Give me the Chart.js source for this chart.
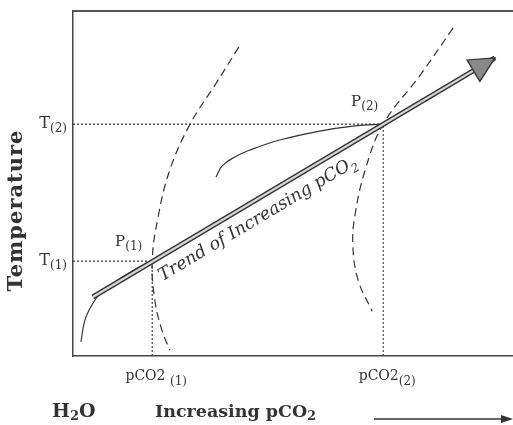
<!DOCTYPE html>
<html>
<head>
<meta charset="utf-8">
<script src="https://cdn.jsdelivr.net/npm/chart.js@4.4.1/dist/chart.umd.min.js"></script>
<style>
  body { margin: 0; background: #fff; }
  #wrap { width: 513px; height: 425px; }
</style>
</head>
<body>
<div id="wrap"><canvas id="phaseChart" width="513" height="425"></canvas></div>
<script>
// state points P(1), P(2) in relative units (0-100 on both axes)
const pointX = [18, 70.5];     // pCO2(1), pCO2(2)
const pointY = [27.5, 67.2];   // T(1), T(2)
const pointSubs = ["(1)", "(2)"];

// dashed boundary curves
const dashLeftX = [37.7, 32.3, 26.6, 22.0, 19.3, 18.0, 18.6, 20.2, 22.0];
const dashLeftY = [89.6, 78.6, 67.2, 53.9, 40.0, 27.5, 16.2, 7.5, 1.7];
const dashRightX = [86.4, 78.9, 70.5, 66.4, 64.1, 63.6, 64.8, 68.0];
const dashRightY = [95.1, 81.4, 67.2, 53.9, 40.9, 32.2, 22.0, 13.0];

// solid curves
const solidLowX = [1.8, 2.7, 4.3, 6.1, 9.5, 13.0, 17.0, 18.0];
const solidLowY = [4.1, 10.4, 14.8, 18.0, 21.4, 24.3, 27.0, 27.5];
const solidMidX = [32.5, 33.9, 36.8, 40.2, 47.0, 56.1, 64.1, 70.5];
const solidMidY = [51.9, 55.1, 57.7, 59.7, 62.6, 65.2, 66.7, 67.2];

// trend arrow (start, tip)
const trendX = [4.5, 95.9];
const trendY = [17.1, 86.4];

const ink = "#333";
const serif = "'DejaVu Serif', 'Liberation Serif', serif";

function toXY(xs, ys) {
  return xs.map((x, i) => ({ x: x, y: ys[i] }));
}

function guide(i) {
  return toXY([0, pointX[i], pointX[i]], [pointY[i], pointY[i], 0]);
}

function lineSet(data, opts) {
  return Object.assign({
    data: data,
    showLine: true,
    pointRadius: 0,
    borderColor: ink,
    borderWidth: 1.2,
    tension: 0.4,
    fill: false
  }, opts);
}

// draws text pieces side by side, some as subscripts
function drawRich(ctx, parts, x, y, align) {
  let total = 0;
  parts.forEach((p) => {
    ctx.font = p.font;
    p.w = ctx.measureText(p.t).width;
    total += p.w;
  });
  let cx = x;
  if (align === "right") cx = x - total;
  if (align === "center") cx = x - total / 2;
  parts.forEach((p) => {
    ctx.font = p.font;
    ctx.fillText(p.t, cx, y + (p.dy || 0));
    cx += p.w;
  });
}

const labelPlugin = {
  id: "labels",
  afterDatasetsDraw(chart) {
    const ctx = chart.ctx;
    const xs = chart.scales.x;
    const ys = chart.scales.y;
    const area = chart.chartArea;
    ctx.save();
    ctx.fillStyle = ink;
    ctx.strokeStyle = ink;
    ctx.textBaseline = "middle";

    // arrow head on the trend line
    const x0 = xs.getPixelForValue(trendX[0]);
    const y0 = ys.getPixelForValue(trendY[0]);
    const x1 = xs.getPixelForValue(trendX[1]);
    const y1 = ys.getPixelForValue(trendY[1]);
    const ang = Math.atan2(y1 - y0, x1 - x0);
    const ux = Math.cos(ang), uy = Math.sin(ang);
    const bx = x1 - ux * 25, by = y1 - uy * 25;
    ctx.beginPath();
    ctx.moveTo(x1, y1);
    ctx.lineTo(bx + uy * 12.5, by - ux * 12.5);
    ctx.lineTo(bx - uy * 12.5, by + ux * 12.5);
    ctx.closePath();
    ctx.fillStyle = "#8a8a8a";
    ctx.fill();
    ctx.lineWidth = 1.3;
    ctx.stroke();
    ctx.fillStyle = ink;

    // rotated trend text
    ctx.save();
    ctx.translate(x0 + ux * 68 - uy * 22, y0 + uy * 68 + ux * 22);
    ctx.rotate(ang);
    ctx.textBaseline = "alphabetic";
    drawRich(ctx, [
      { t: "Trend of Increasing pCO", font: "italic 17.5px " + serif },
      { t: "2", font: "italic 12px " + serif, dy: 5 }
    ], 0, 0, "left");
    ctx.restore();

    // T and pCO2 labels, P labels
    pointY.forEach((v, i) => {
      const py = ys.getPixelForValue(v);
      drawRich(ctx, [
        { t: "T", font: "16px " + serif },
        { t: pointSubs[i], font: "12px " + serif, dy: 5 }
      ], area.left - 6, py, "right");
    });
    pointX.forEach((v, i) => {
      const px = xs.getPixelForValue(v);
      drawRich(ctx, [
        { t: i === 0 ? "pCO2 " : "pCO2", font: "14px " + serif },
        { t: pointSubs[i], font: "12px " + serif, dy: 6 }
      ], px + 4, area.bottom + 20, "center");
      const py = ys.getPixelForValue(pointY[i]);
      drawRich(ctx, [
        { t: "P", font: "15px " + serif },
        { t: pointSubs[i], font: "12px " + serif, dy: 5 }
      ], px - (i === 0 ? 10 : 5), py - (i === 0 ? 19 : 22), "right");
    });

    // axis titles
    ctx.save();
    ctx.translate(17, (area.top + area.bottom) / 2 + 27);
    ctx.rotate(-Math.PI / 2);
    ctx.letterSpacing = "1px";
    drawRich(ctx, [{ t: "Temperature", font: "bold 21px " + serif }], 0, 0, "center");
    ctx.restore();

    const ty = area.bottom + 56;
    drawRich(ctx, [
      { t: "H", font: "bold 19px " + serif },
      { t: "2", font: "bold 13px " + serif, dy: 5 },
      { t: "O", font: "bold 19px " + serif }
    ], 52, ty, "left");
    drawRich(ctx, [
      { t: "Increasing pCO", font: "bold 17.5px " + serif },
      { t: "2", font: "bold 12.5px " + serif, dy: 5 }
    ], 155, ty, "left");

    // direction arrow under the x axis
    const ax0 = xs.getPixelForValue(68.4);
    const ax1 = area.right;
    const ay = area.bottom + 63;
    ctx.lineWidth = 1.5;
    ctx.beginPath();
    ctx.moveTo(ax0, ay);
    ctx.lineTo(ax1 - 8, ay);
    ctx.stroke();
    ctx.beginPath();
    ctx.moveTo(ax1, ay);
    ctx.lineTo(ax1 - 12, ay - 4);
    ctx.lineTo(ax1 - 12, ay + 4);
    ctx.closePath();
    ctx.fill();
    ctx.restore();
  }
};

const noAxisText = {
  grid: { display: false, drawTicks: false },
  ticks: { display: false },
  border: { color: "#444", width: 1.5 },
  min: 0,
  max: 100
};

// dataset 0 is painted last (on top), so the light core of the arrow comes first
new Chart(document.getElementById("phaseChart"), {
  type: "scatter",
  data: {
    datasets: [
      lineSet(toXY(trendX, trendY), { borderWidth: 2.2, tension: 0, borderColor: "#d8d8d8" }),
      lineSet(toXY(trendX, trendY), { borderWidth: 5, tension: 0, borderColor: "#333" }),
      lineSet(guide(0), { borderDash: [2, 2], borderWidth: 1.1, tension: 0 }),
      lineSet(guide(1), { borderDash: [2, 2], borderWidth: 1.1, tension: 0 }),
      lineSet(toXY(dashLeftX, dashLeftY), { borderDash: [8, 5] }),
      lineSet(toXY(dashRightX, dashRightY), { borderDash: [8, 5] }),
      lineSet(toXY(solidLowX, solidLowY)),
      lineSet(toXY(solidMidX, solidMidY))
    ]
  },
  options: {
    responsive: false,
    animation: false,
    layout: { padding: { left: 73, top: 11, right: 0, bottom: 69 } },
    plugins: {
      legend: { display: false },
      tooltip: { enabled: false }
    },
    scales: {
      x: Object.assign({ type: "linear", position: "bottom" }, noAxisText),
      xTop: Object.assign({ type: "linear", position: "top", axis: "x" }, noAxisText, {
        border: { color: "#555", width: 2 }
      }),
      y: Object.assign({ type: "linear", position: "left" }, noAxisText)
    }
  },
  plugins: [labelPlugin]
});
</script>
</body>
</html>
